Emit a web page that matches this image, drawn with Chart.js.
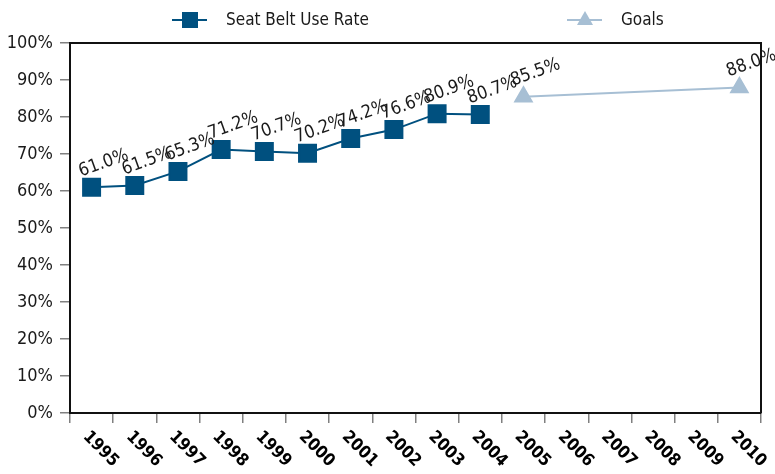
<!DOCTYPE html>
<html>
<head>
<meta charset="utf-8">
<script src="https://cdn.jsdelivr.net/npm/chart.js@4.4.0/dist/chart.umd.min.js"></script>
<style>
    body { margin: 0; background: #fff; }
    #wrap { width: 775px; height: 474px; position: relative; }
</style>
</head>
<body>
<div id="wrap"><canvas id="seatBeltChart"></canvas></div>
<script>
// Datos
const years = ['1995', '1996', '1997', '1998', '1999', '2000', '2001', '2002',
               '2003', '2004', '2005', '2006', '2007', '2008', '2009', '2010'];
const useRate = [61.0, 61.5, 65.3, 71.2, 70.7, 70.2, 74.2, 76.6, 80.9, 80.7,
                 null, null, null, null, null, null];
const goals = [null, null, null, null, null, null, null, null, null, null,
               85.5, null, null, null, null, 88.0];
const yTickValues = [0, 10, 20, 30, 40, 50, 60, 70, 80, 90, 100];

const FONT = 'DejaVu Sans Condensed';
const TEXT = '#1a1a1a';

// Marco superior / derecho
const framePlugin = {
    id: 'frame',
    afterDraw(chart) {
        const { ctx, chartArea: a } = chart;
        ctx.save();
        ctx.strokeStyle = '#111';
        ctx.lineWidth = 2;
        ctx.beginPath();
        ctx.moveTo(a.left, a.top);
        ctx.lineTo(a.right, a.top);
        ctx.lineTo(a.right, a.bottom);
        ctx.stroke();
        ctx.restore();
    }
};

// Etiquetas del eje X giradas 45 grados
const xLabelPlugin = {
    id: 'xLabels',
    afterDraw(chart) {
        const { ctx, chartArea: a } = chart;
        const xScale = chart.scales.x;
        ctx.save();
        ctx.font = 'bold 17px "' + FONT + '"';
        ctx.fillStyle = '#000';
        ctx.textAlign = 'left';
        ctx.textBaseline = 'middle';
        years.forEach((label, i) => {
            const x = xScale.getPixelForValue(i);
            ctx.save();
            ctx.translate(x - 6, a.bottom + 21);
            ctx.rotate(Math.PI / 4);
            ctx.fillText(label, 0, 0);
            ctx.restore();
        });
        ctx.restore();
    }
};

// Etiquetas de datos
const valueLabelPlugin = {
    id: 'valueLabels',
    afterDatasetsDraw(chart) {
        const { ctx } = chart;
        ctx.save();
        ctx.font = '18px "' + FONT + '"';
        ctx.fillStyle = TEXT;
        ctx.textAlign = 'center';
        ctx.textBaseline = 'middle';
        chart.data.datasets.forEach((ds, di) => {
            const meta = chart.getDatasetMeta(di);
            meta.data.forEach((pt, i) => {
                const v = ds.data[i];
                if (v === null || v === undefined) return;
                ctx.save();
                ctx.translate(pt.x + 12, pt.y - 24);
                ctx.rotate(-20 * Math.PI / 180);
                ctx.fillText(v.toFixed(1) + '%', 0, 0);
                ctx.restore();
            });
        });
        ctx.restore();
    }
};

// Leyenda
const legendPlugin = {
    id: 'customLegend',
    afterDraw(chart) {
        const { ctx } = chart;
        const starts = [172, 567];
        const y = 20;
        ctx.save();
        chart.data.datasets.forEach((ds, i) => {
            const x0 = starts[i];
            ctx.strokeStyle = ds.borderColor;
            ctx.lineWidth = 2;
            ctx.beginPath();
            ctx.moveTo(x0, y);
            ctx.lineTo(x0 + 35, y);
            ctx.stroke();
            ctx.fillStyle = ds.pointBackgroundColor;
            const cx = x0 + 18;
            if (ds.pointStyle === 'rect') {
                ctx.fillRect(cx - 8, y - 8, 16, 16);
            } else {
                ctx.beginPath();
                ctx.moveTo(cx, y - 9);
                ctx.lineTo(cx + 8, y + 5);
                ctx.lineTo(cx - 8, y + 5);
                ctx.closePath();
                ctx.fill();
            }
            ctx.font = '17px "' + FONT + '"';
            ctx.fillStyle = TEXT;
            ctx.textAlign = 'left';
            ctx.textBaseline = 'middle';
            ctx.fillText(ds.label, x0 + 54, y + 1);
        });
        ctx.restore();
    }
};

function initChart() {
    const ctx = document.getElementById('seatBeltChart').getContext('2d');

    new Chart(ctx, {
        type: 'line',
        data: {
            labels: years,
            datasets: [
                {
                    label: 'Seat Belt Use Rate',
                    data: useRate,
                    borderColor: '#00507f',
                    backgroundColor: '#00507f',
                    pointBackgroundColor: '#00507f',
                    pointBorderColor: '#00507f',
                    pointStyle: 'rect',
                    pointRadius: 12,
                    borderWidth: 2,
                    spanGaps: false
                },
                {
                    label: 'Goals',
                    data: goals,
                    borderColor: '#a7bfd4',
                    backgroundColor: '#a7bfd4',
                    pointBackgroundColor: '#a7bfd4',
                    pointBorderColor: '#a7bfd4',
                    pointStyle: 'triangle',
                    pointRadius: 9.5,
                    borderWidth: 2,
                    spanGaps: true
                }
            ]
        },
        options: {
            responsive: true,
            maintainAspectRatio: false,
            animation: false,
            layout: { padding: { top: 43, right: 10, bottom: 51, left: 0 } },
            plugins: {
                legend: { display: false },
                tooltip: { enabled: false }
            },
            scales: {
                x: {
                    offset: true,
                    grid: {
                        offset: true,
                        drawOnChartArea: false,
                        drawTicks: true,
                        tickLength: 10,
                        color: '#808080',
                        lineWidth: 1.5
                    },
                    border: { display: true, color: '#111', width: 2 },
                    ticks: { display: false }
                },
                y: {
                    min: 0,
                    max: 100,
                    afterBuildTicks: function(scale) {
                        scale.ticks = yTickValues.map(v => ({ value: v }));
                    },
                    afterFit: function(scale) {
                        scale.width = 70;
                    },
                    grid: {
                        drawOnChartArea: false,
                        drawTicks: true,
                        tickLength: 10,
                        color: '#808080',
                        lineWidth: 1.5
                    },
                    border: { display: true, color: '#111', width: 2 },
                    ticks: {
                        padding: 7,
                        color: TEXT,
                        font: { family: FONT, size: 18 },
                        callback: function(value) {
                            return value + '%';
                        }
                    }
                }
            }
        },
        plugins: [framePlugin, valueLabelPlugin, xLabelPlugin, legendPlugin]
    });
}

document.addEventListener('DOMContentLoaded', initChart);
</script>
</body>
</html>
